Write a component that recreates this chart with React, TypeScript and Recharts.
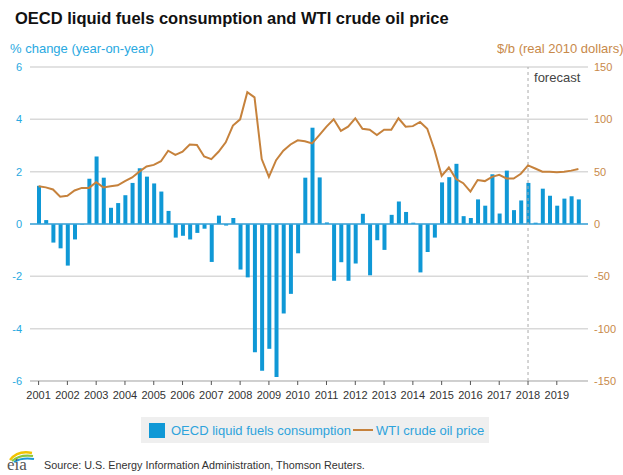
import {
  Bar,
  CartesianGrid,
  ComposedChart,
  Line,
  ReferenceLine,
  XAxis,
  YAxis,
} from "recharts";

const FONT = '"Liberation Sans", Arial, Helvetica, sans-serif';
const BLUE = "#0f98d6";
const BROWN = "#c6823c";

const years = [
  2001, 2002, 2003, 2004, 2005, 2006, 2007, 2008, 2009, 2010, 2011, 2012, 2013,
  2014, 2015, 2016, 2017, 2018, 2019,
];
const quarters = ["Q1", "Q2", "Q3", "Q4"];

// OECD liquid fuels consumption, % change year-on-year (quarterly)
const consumption = [
  1.46, 0.15, -0.71, -0.93,
  -1.59, -0.59, -0.02, 1.73,
  2.58, 1.77, 0.62, 0.8,
  1.1, 1.57, 2.13, 1.81,
  1.55, 1.24, 0.5, -0.52,
  -0.45, -0.59, -0.34, -0.18,
  -1.45, 0.32, -0.06, 0.23,
  -1.74, -2.04, -4.9, -5.61,
  -4.77, -5.85, -3.42, -2.67,
  -1.12, 1.77, 3.68, 1.78,
  0.06, -2.17, -1.46, -2.17,
  -1.51, 0.39, -1.96, -0.62,
  -0.99, 0.35, 0.86, 0.46,
  0.05, -1.85, -1.07, -0.52,
  1.59, 1.79, 2.3, 0.3,
  0.23, 0.94, 0.7, 1.9,
  0.4, 2.04, 0.53, 0.9,
  1.57, 0.05, 1.35, 1.08,
  0.7, 0.97, 1.06, 0.94,
];

// WTI crude oil price, $/b (real 2010 dollars)
const wti = [
  36, 35, 33, 26,
  27, 32, 34.5, 34.5,
  40, 35, 36, 37,
  41, 44.5, 50, 55,
  56.5, 60, 70, 66,
  69, 76, 75.5, 64.5,
  62, 69, 78, 94,
  100, 126, 121, 62,
  45, 61, 70, 76,
  80, 79, 77, 85,
  93, 100, 89, 93,
  101, 91, 90, 85,
  90, 90, 101, 93,
  93.5, 97.5, 91, 71,
  46, 54, 43, 39,
  31, 42, 41, 45,
  47, 43.5, 43.5, 48,
  56, 53, 50, 50,
  49.5, 50, 51, 52.5,
];

const leftTicks = [-6, -4, -2, 0, 2, 4, 6];
const rightTicks = [-150, -100, -50, 0, 50, 100, 150];
const forecastStart = "2018Q1";

const labels = years.flatMap((y) => quarters.map((q) => `${y}${q}`));
const data = labels.map((q, i) => ({
  q,
  oecd: consumption[i],
  wti: wti[i],
}));
const yearTicks = years.map((y) => `${y}Q1`);

function EiaLogo() {
  return (
    <svg width={36} height={26} style={{ position: "absolute", left: 5, top: 447 }}>
      <path d="M5 13 Q13 3 27 6" fill="none" stroke="#f2c300" strokeWidth={2.4} />
      <path d="M7 14 Q15 7 28 9" fill="none" stroke="#8cc63e" strokeWidth={2.2} />
      <path d="M9 15 Q17 10 29 12" fill="none" stroke="#1e9ad6" strokeWidth={2} />
      <text x={2} y={23} fontFamily='"Liberation Serif", "DejaVu Serif", serif' fontSize={17} fill="#555">
        eia
      </text>
    </svg>
  );
}

export default function App() {
  return (
    <div
      style={{
        position: "absolute",
        left: 0,
        top: 0,
        width: 623,
        height: 475,
        background: "#fff",
        fontFamily: FONT,
        overflow: "hidden",
      }}
    >
      <div style={{ position: "absolute", left: 15, top: 9, fontSize: 16.5, fontWeight: "bold", color: "#111", whiteSpace: "nowrap" }}>
        OECD liquid fuels consumption and WTI crude oil price
      </div>
      <div style={{ position: "absolute", left: 10, top: 41, fontSize: 13, color: "#29a9e1", whiteSpace: "nowrap" }}>
        % change (year-on-year)
      </div>
      <div style={{ position: "absolute", left: 497, top: 41, fontSize: 13, color: "#c8894a", whiteSpace: "nowrap" }}>
        $/b (real 2010 dollars)
      </div>

      <div style={{ position: "absolute", left: 0, top: 0 }}>
        <ComposedChart
          width={623}
          height={410}
          data={data}
          margin={{ top: 67, right: 0, bottom: 4, left: 0 }}
        >
          <CartesianGrid yAxisId="left" vertical={false} stroke="#d9d9d9" strokeWidth={1.5} />
          <XAxis
            dataKey="q"
            ticks={yearTicks}
            interval={0}
            tickFormatter={(v: string) => v.slice(0, 4)}
            height={25}
            padding={{ left: 5, right: 6 }}
            tickSize={4}
            tickMargin={6}
            axisLine={{ stroke: "#bdbdbd" }}
            tickLine={{ stroke: "#555" }}
            tick={{ fill: "#333", fontSize: 11 }}
          />
          <YAxis
            yAxisId="left"
            domain={[-6, 6]}
            ticks={leftTicks}
            width={30}
            axisLine={false}
            tickLine={false}
            tickSize={0}
            tickMargin={8}
            tick={{ fill: "#29a9e1", fontSize: 11 }}
          />
          <YAxis
            yAxisId="right"
            orientation="right"
            domain={[-150, 150]}
            ticks={rightTicks}
            width={35}
            axisLine={false}
            tickLine={false}
            tickSize={0}
            tickMargin={6}
            tick={{ fill: "#c8894a", fontSize: 11, textAnchor: "start" }}
          />
          <ReferenceLine yAxisId="left" y={0} stroke="#3aa6dc" strokeWidth={1.5} />
          <ReferenceLine
            yAxisId="left"
            x={forecastStart}
            stroke="#aaa"
            strokeDasharray="3 3"
            label={{ value: "forecast", position: "insideTopLeft", offset: 6, fill: "#444", fontSize: 13 }}
          />
          <Bar yAxisId="left" dataKey="oecd" fill={BLUE} barSize={4} isAnimationActive={false} />
          <Line
            yAxisId="right"
            dataKey="wti"
            type="linear"
            stroke={BROWN}
            strokeWidth={2}
            dot={false}
            isAnimationActive={false}
          />
        </ComposedChart>
      </div>

      <div
        style={{
          position: "absolute",
          left: 141,
          top: 417,
          width: 348,
          height: 26,
          background: "#efefef",
          display: "flex",
          alignItems: "center",
          fontSize: 13,
          color: "#2ea3dc",
          whiteSpace: "nowrap",
        }}
      >
        <span style={{ display: "inline-block", width: 16, height: 15, background: BLUE, marginLeft: 8, marginRight: 6 }} />
        <span>OECD liquid fuels consumption</span>
        <span style={{ display: "inline-block", width: 20, height: 2, background: BROWN, marginLeft: 2, marginRight: 3 }} />
        <span>WTI crude oil price</span>
      </div>

      <EiaLogo />
      <div style={{ position: "absolute", left: 44, top: 459, fontSize: 10.8, color: "#333", whiteSpace: "nowrap" }}>
        Source: U.S. Energy Information Administration, Thomson Reuters.
      </div>
    </div>
  );
}
